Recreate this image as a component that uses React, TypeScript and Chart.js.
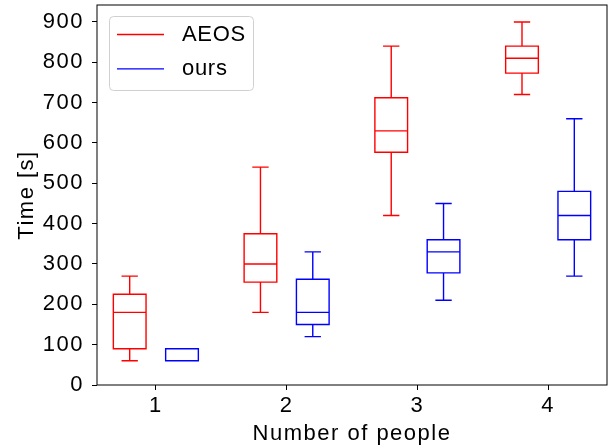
import { useEffect, useRef } from "react";
import { Chart, registerables } from "chart.js";

Chart.register(...registerables);

// ---- data ----
const categories = [1, 2, 3, 4];
const seriesNames = ["AEOS", "ours"];

const aeosLow = [60, 180, 420, 720];
const aeosQ1 = [90, 255, 577, 773];
const aeosMedian = [180, 300, 630, 810];
const aeosQ3 = [225, 375, 712, 840];
const aeosHigh = [270, 540, 840, 900];

const oursLow = [60, 120, 210, 270];
const oursQ1 = [60, 150, 278, 360];
const oursMedian = [60, 180, 330, 420];
const oursQ3 = [90, 262, 360, 480];
const oursHigh = [90, 330, 450, 660];

const yTicks = [0, 100, 200, 300, 400, 500, 600, 700, 800, 900];
const xTicks = categories;

const FONT = "'Liberation Sans', Arial, sans-serif";
const colors = ["#ff0000", "#0000ff"];
const offsets = [-0.2, 0.2];
const boxWidth = 0.25;

function buildData(lo: number[], q1: number[], med: number[], q3: number[], hi: number[]) {
  return categories.map((c, i) => ({ x: c, y: med[i], lo: lo[i], q1: q1[i], med: med[i], q3: q3[i], hi: hi[i] }));
}

const spacingPlugin = {
  id: "spacing",
  beforeInit(chart: any) {
    chart.ctx.letterSpacing = "1.5px";
  },
  beforeUpdate(chart: any) {
    chart.ctx.letterSpacing = "1.5px";
  },
  beforeDraw(chart: any) {
    chart.ctx.letterSpacing = "1.5px";
  },
};

const boxPlugin = {
  id: "boxes",
  afterDatasetsDraw(chart: any) {
    const { ctx, chartArea, scales } = chart;
    const xs = scales.x;
    const ys = scales.y;
    ctx.save();
    ctx.beginPath();
    ctx.rect(chartArea.left, chartArea.top, chartArea.right - chartArea.left, chartArea.bottom - chartArea.top);
    ctx.clip();
    chart.data.datasets.forEach((ds: any, di: number) => {
      ctx.strokeStyle = ds.borderColor;
      ctx.lineWidth = 1.4;
      const off = offsets[di];
      ds.data.forEach((d: any) => {
        const xc = xs.getPixelForValue(d.x + off);
        const xl = xs.getPixelForValue(d.x + off - boxWidth / 2);
        const xr = xs.getPixelForValue(d.x + off + boxWidth / 2);
        const cl = xs.getPixelForValue(d.x + off - boxWidth / 4);
        const cr = xs.getPixelForValue(d.x + off + boxWidth / 4);
        const yLo = ys.getPixelForValue(d.lo);
        const yQ1 = ys.getPixelForValue(d.q1);
        const yMed = ys.getPixelForValue(d.med);
        const yQ3 = ys.getPixelForValue(d.q3);
        const yHi = ys.getPixelForValue(d.hi);
        ctx.beginPath();
        ctx.rect(xl, yQ3, xr - xl, yQ1 - yQ3);
        ctx.moveTo(xl, yMed);
        ctx.lineTo(xr, yMed);
        ctx.moveTo(xc, yQ1);
        ctx.lineTo(xc, yLo);
        ctx.moveTo(xc, yQ3);
        ctx.lineTo(xc, yHi);
        ctx.moveTo(cl, yLo);
        ctx.lineTo(cr, yLo);
        ctx.moveTo(cl, yHi);
        ctx.lineTo(cr, yHi);
        ctx.stroke();
      });
    });
    ctx.restore();
  },
  afterDraw(chart: any) {
    const { ctx, chartArea } = chart;
    ctx.save();
    ctx.strokeStyle = "#000";
    ctx.lineWidth = 1;
    ctx.strokeRect(chartArea.left, chartArea.top, chartArea.right - chartArea.left, chartArea.bottom - chartArea.top);
    // legend
    const lx = chartArea.left + 12;
    const ly = chartArea.top + 11;
    const lw = 144;
    const lh = 74;
    ctx.beginPath();
    (ctx as any).roundRect(lx + 0.5, ly + 0.5, lw, lh, 4);
    ctx.fillStyle = "rgba(255,255,255,0.8)";
    ctx.fill();
    ctx.strokeStyle = "#d0d0d0";
    ctx.lineWidth = 1;
    ctx.stroke();
    ctx.font = `22px ${FONT}`;
    (ctx as any).letterSpacing = "0.7px";
    ctx.textBaseline = "middle";
    ctx.textAlign = "left";
    chart.data.datasets.forEach((ds: any, i: number) => {
      const yy = ly + 18.5 + i * 34.4;
      ctx.beginPath();
      ctx.strokeStyle = ds.borderColor;
      ctx.lineWidth = 1.4;
      ctx.moveTo(lx + 8, yy);
      ctx.lineTo(lx + 55, yy);
      ctx.stroke();
      ctx.fillStyle = "#000";
      ctx.fillText(ds.label, lx + 73, yy);
    });
    ctx.restore();
  },
};

function zeroPad(s: any) {
  s.paddingTop = 0;
  s.paddingBottom = 0;
  s.paddingLeft = 0;
  s.paddingRight = 0;
}

export default function App() {
  const ref = useRef<HTMLCanvasElement | null>(null);
  useEffect(() => {
    if (!ref.current) return;
    Chart.defaults.font.family = FONT;
    Chart.defaults.color = "#000";
    const chart = new Chart(ref.current, {
      type: "scatter",
      data: {
        datasets: [
          {
            label: seriesNames[0],
            data: buildData(aeosLow, aeosQ1, aeosMedian, aeosQ3, aeosHigh),
            borderColor: colors[0],
            backgroundColor: colors[0],
            pointRadius: 0,
            pointHoverRadius: 0,
          },
          {
            label: seriesNames[1],
            data: buildData(oursLow, oursQ1, oursMedian, oursQ3, oursHigh),
            borderColor: colors[1],
            backgroundColor: colors[1],
            pointRadius: 0,
            pointHoverRadius: 0,
          },
        ] as any,
      },
      options: {
        animation: false,
        responsive: false,
        events: [],
        layout: { padding: { left: 0, right: 2, top: 5, bottom: 0 } },
        plugins: { legend: { display: false }, tooltip: { enabled: false } },
        scales: {
          x: {
            type: "linear",
            min: 0.55,
            max: 4.45,
            afterBuildTicks: (s: any) => {
              s.ticks = xTicks.map((v) => ({ value: v }));
            },
            afterFit: (s: any) => {
              s.height = 62;
              zeroPad(s);
            },
            border: { display: false },
            grid: { display: true, drawOnChartArea: false, drawTicks: true, tickLength: 5, color: "#000" },
            ticks: { font: { size: 22 }, padding: 3, color: "#000", maxRotation: 0, callback: (v: any) => String(v) },
            title: { display: true, text: "Number of people", font: { size: 22 }, color: "#000", padding: { top: 0, bottom: 0 } },
          },
          y: {
            type: "linear",
            min: 0,
            max: 942,
            afterBuildTicks: (s: any) => {
              s.ticks = yTicks.map((v) => ({ value: v }));
            },
            afterFit: (s: any) => {
              s.width = 97;
              zeroPad(s);
            },
            border: { display: false },
            grid: { display: true, drawOnChartArea: false, drawTicks: true, tickLength: 5, color: "#000" },
            ticks: { font: { size: 22 }, padding: 8, color: "#000", callback: (v: any) => String(v) },
            title: { display: true, text: "Time [s]", font: { size: 22 }, color: "#000", padding: { top: 13.5, bottom: 0 } },
          },
        },
      },
      plugins: [spacingPlugin, boxPlugin],
    } as any);
    return () => chart.destroy();
  }, []);
  return (
    <div style={{ position: "absolute", left: 0, top: 0, width: 609, height: 447, background: "#fff" }}>
      <canvas ref={ref} width={609} height={447} />
    </div>
  );
}
